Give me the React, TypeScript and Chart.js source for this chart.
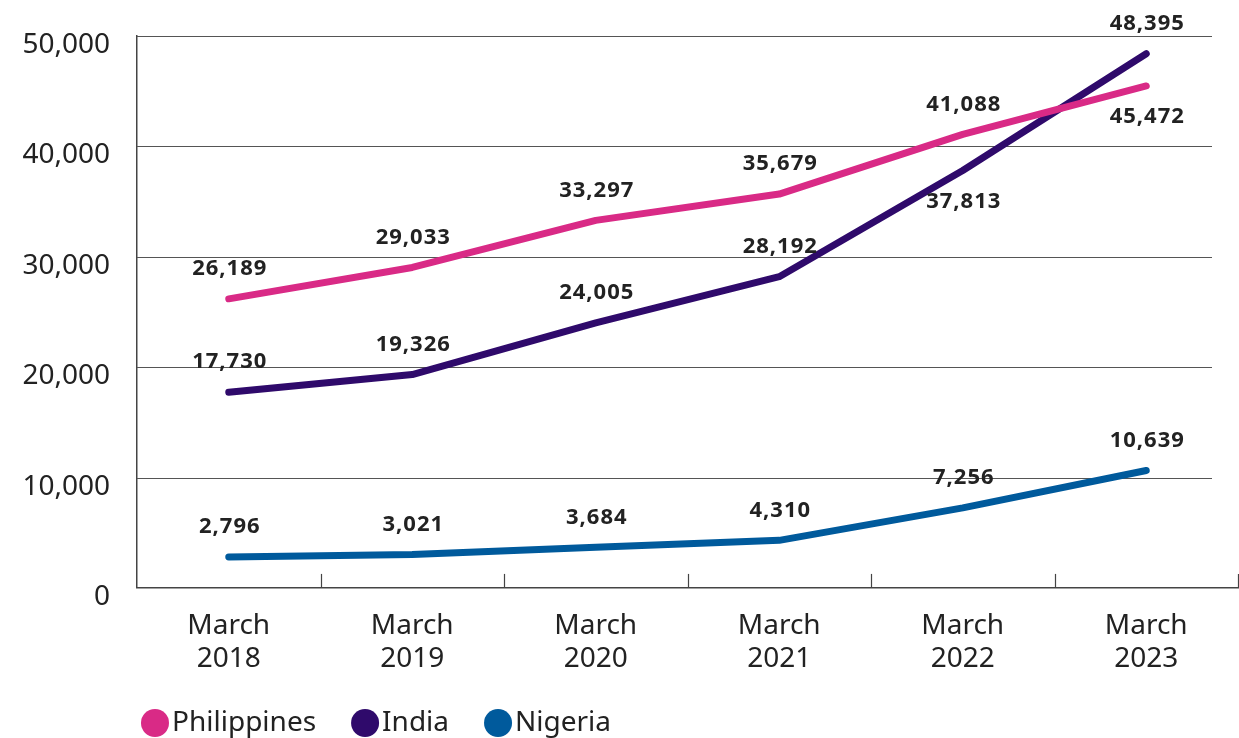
import React, { useEffect, useRef } from "react";
import { Chart, registerables } from "chart.js";

Chart.register(...registerables);

const categories: string[][] = [
  ["March", "2018"],
  ["March", "2019"],
  ["March", "2020"],
  ["March", "2021"],
  ["March", "2022"],
  ["March", "2023"],
];
const philippines = [26189, 29033, 33297, 35679, 41088, 45472];
const india = [17730, 19326, 24005, 28192, 37813, 48395];
const nigeria = [2796, 3021, 3684, 4310, 7256, 10639];
const philippinesLabelPos = ["above", "above", "above", "above", "above", "below"];
const indiaLabelPos = ["above", "above", "above", "above", "below", "above"];
const nigeriaLabelPos = ["above", "above", "above", "above", "above", "above"];
const yTicks = [0, 10000, 20000, 30000, 40000, 50000];

const PINK = "#D92A86";
const PURPLE = "#2F0A6B";
const BLUE = "#005A9C";
const TEXT = "#222222";
const FONT = "'Noto Sans', sans-serif";

const labelPositions = [philippinesLabelPos, indiaLabelPos, nigeriaLabelPos];

const fmt = (v: number) => v.toLocaleString("en-US");

const dataLabelPlugin = {
  id: "dataLabels",
  afterDatasetsDraw(chart: any) {
    const ctx = chart.ctx;
    ctx.save();
    ctx.font = `bold 22px ${FONT}`;
    try {
      ctx.letterSpacing = "1px";
    } catch (e) {}
    ctx.fillStyle = TEXT;
    ctx.textAlign = "center";
    ctx.textBaseline = "middle";
    chart.data.datasets.forEach((ds: any, di: number) => {
      const meta = chart.getDatasetMeta(di);
      meta.data.forEach((pt: any, i: number) => {
        const pos = labelPositions[di][i];
        const dy = pos === "below" ? 31 : -30;
        ctx.fillText(fmt(ds.data[i]), pt.x + 1, pt.y + dy);
      });
    });
    ctx.restore();
  },
};

const gridPlugin = {
  id: "customGrid",
  beforeDatasetsDraw(chart: any) {
    const ctx = chart.ctx;
    const { left, right, bottom } = chart.chartArea;
    const ys = chart.scales.y;
    const xs = chart.scales.x;
    ctx.save();
    ctx.strokeStyle = "#555555";
    ctx.lineWidth = 1.2;
    yTicks.forEach((v) => {
      if (v === 0) return;
      const y = Math.round(ys.getPixelForValue(v)) + 0.5;
      ctx.beginPath();
      ctx.moveTo(left, y);
      ctx.lineTo(right - 26, y);
      ctx.stroke();
    });
    ctx.strokeStyle = "#444444";
    ctx.lineWidth = 1.2;
    for (let i = 0; i < categories.length; i++) {
      let x: number;
      if (i < categories.length - 1) {
        x = (xs.getPixelForValue(i) + xs.getPixelForValue(i + 1)) / 2;
      } else {
        x = right - 0.5;
      }
      x = Math.round(x) + 0.5;
      ctx.beginPath();
      ctx.moveTo(x, bottom);
      ctx.lineTo(x, bottom - 14);
      ctx.stroke();
    }
    ctx.restore();
  },
};

const legendPlugin = {
  id: "customLegend",
  afterDraw(chart: any) {
    const ctx = chart.ctx;
    const { left } = chart.chartArea;
    const y = chart.height - 15;
    ctx.save();
    ctx.font = `28px ${FONT}`;
    ctx.textBaseline = "middle";
    ctx.textAlign = "left";
    let x = left + 4;
    chart.data.datasets.forEach((ds: any) => {
      ctx.fillStyle = ds.borderColor;
      ctx.beginPath();
      ctx.arc(x + 14, y, 14, 0, Math.PI * 2);
      ctx.fill();
      ctx.fillStyle = TEXT;
      const tx = x + 31;
      ctx.fillText(ds.label, tx, y);
      x = tx + ctx.measureText(ds.label).width + 35;
    });
    ctx.restore();
  },
};

export default function App() {
  const canvasRef = useRef<HTMLCanvasElement | null>(null);

  useEffect(() => {
    if (!canvasRef.current) return;
    const mk = (label: string, data: number[], color: string) => ({
      label,
      data,
      borderColor: color,
      backgroundColor: color,
      borderWidth: 7,
      borderCapStyle: "round",
      borderJoinStyle: "round",
      pointRadius: 0,
      pointHoverRadius: 0,
      tension: 0,
      fill: false,
    });
    const chart = new Chart(canvasRef.current, {
      type: "line",
      data: {
        labels: categories,
        datasets: [
          mk("Philippines", philippines, PINK),
          mk("India", india, PURPLE),
          mk("Nigeria", nigeria, BLUE),
        ] as any,
      },
      options: {
        animation: false,
        responsive: true,
        maintainAspectRatio: false,
        layout: { padding: { top: 36, right: 1, bottom: 48, left: 0 } },
        plugins: {
          legend: { display: false },
          tooltip: { enabled: false },
        },
        scales: {
          x: {
            type: "category",
            offset: true,
            grid: { display: false },
            border: { display: true, color: "#444444", width: 1.5 },
            ticks: {
              color: TEXT,
              font: { family: FONT, size: 28, lineHeight: 1.18 },
              padding: 14,
              maxRotation: 0,
              autoSkip: false,
            },
          },
          y: {
            min: 0,
            max: 50000,
            grid: { display: false },
            border: { display: true, color: "#444444", width: 1.5 },
            afterFit: (scale: any) => {
              scale.width = 137;
            },
            afterBuildTicks: (scale: any) => {
              scale.ticks = yTicks.map((v) => ({ value: v }));
            },
            ticks: {
              color: TEXT,
              font: { family: FONT, size: 28 },
              padding: 19,
              labelOffset: 9,
              callback: (v: any) => fmt(Number(v)),
            },
          },
        },
      } as any,
      plugins: [gridPlugin, dataLabelPlugin, legendPlugin],
    });
    return () => chart.destroy();
  }, []);

  return (
    <div style={{ position: "fixed", left: 0, top: 0, width: 1239, height: 738, background: "#fff" }}>
      <canvas ref={canvasRef} />
    </div>
  );
}
